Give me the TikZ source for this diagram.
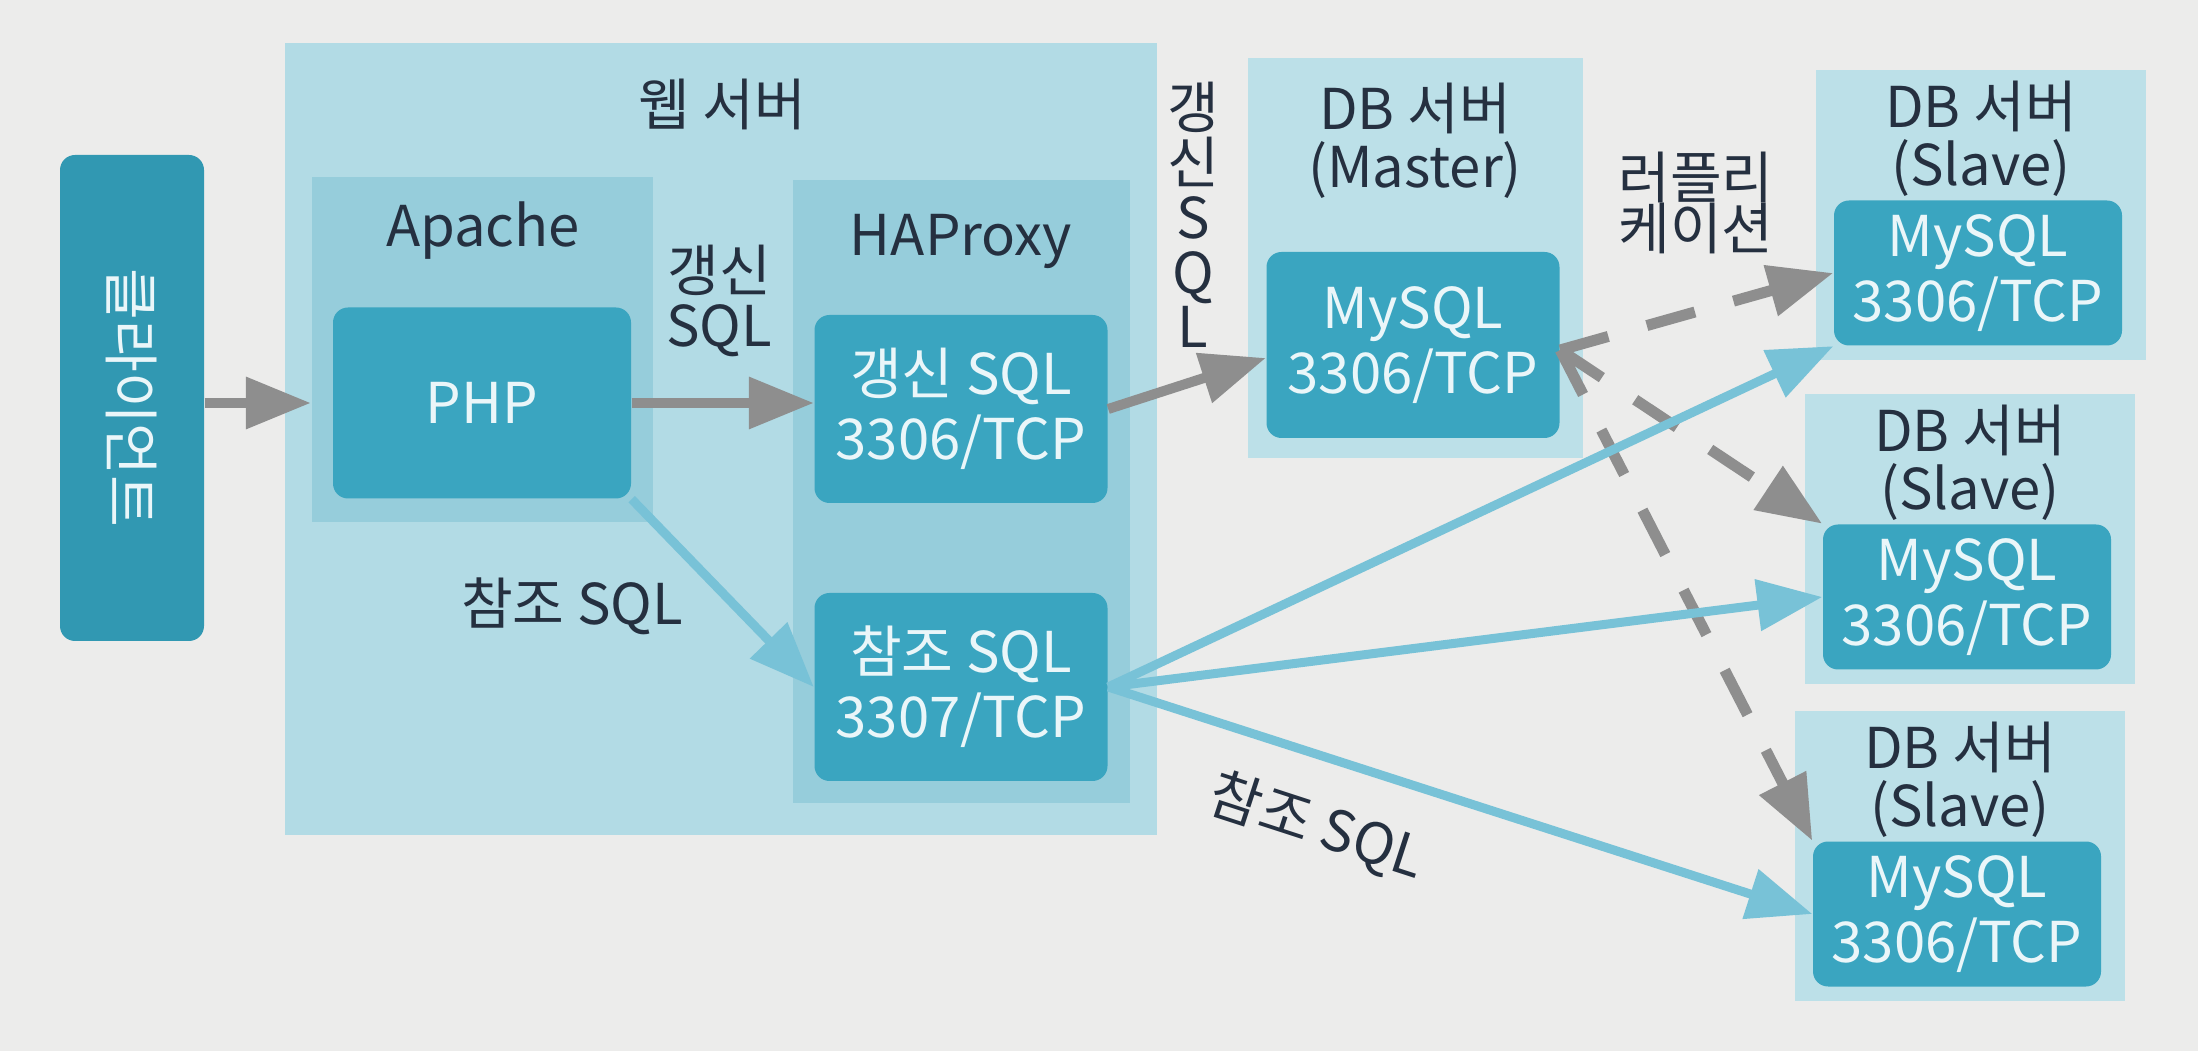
\documentclass[tikz,border=0pt]{standalone}
\usepackage{fontspec}
\setmainfont{Noto Sans CJK KR}
\usetikzlibrary{arrows.meta,positioning}
\definecolor{bgcol}{HTML}{ECECEB}
\definecolor{webcol}{HTML}{B2DBE5}
\definecolor{midcol}{HTML}{96CDDB}
\definecolor{dbcol}{HTML}{BCE0E8}
\definecolor{sqlcol}{HTML}{3AA5C0}
\definecolor{clientcol}{HTML}{3198B2}
\definecolor{txtcol}{HTML}{253040}
\definecolor{nodetxt}{HTML}{EAF6F9}
\definecolor{greycol}{HTML}{8E8E8E}
\definecolor{bluecol}{HTML}{78C2D7}
\tikzset{
  webbox/.style={fill=webcol, inner sep=0pt},
  midbox/.style={fill=midcol, inner sep=0pt},
  dbbox/.style={fill=dbcol, inner sep=0pt, minimum width=33mm, minimum height=29mm},
  sqlbox/.style={fill=sqlcol, rounded corners=1.5mm, text=nodetxt, align=center,
    font=\fontsize{16}{18.5}\selectfont},
  clientbox/.style={fill=clientcol, rounded corners=1.5mm, text=nodetxt,
    font=\fontsize{16}{18}\selectfont},
  title/.style={text=txtcol, align=center, font=\fontsize{16}{16.5}\selectfont},
  greyarrow/.style={draw=greycol, line width=1mm, -{Triangle[length=6.5mm,width=5mm]}},
  bluearrow/.style={draw=bluecol, line width=0.9mm, -{Triangle[length=6.5mm,width=5mm]}},
  replarrow/.style={draw=greycol, line width=1.1mm, dash pattern=on 5mm off 4mm,
    -{Triangle[length=6.5mm,width=5mm]}}
}

\begin{document}
\begin{tikzpicture}[x=0.1mm,y=-0.1mm]
  \fill[bgcol] (0,0) rectangle (2198,1051);

  % Define nodes
  \node[clientbox, minimum width=14.4mm, minimum height=48.6mm] (client) at (132,398) {\rotatebox{-90}{클라이언트}};

  \node[webbox, minimum width=87.2mm, minimum height=79.2mm] (web) at (721,439) {};
  \node[title] (webtitle) at (722,104) {웹 서버};

  \node[midbox, minimum width=34.1mm, minimum height=34.5mm] (apache) at (482,350) {};
  \node[title] (apachetitle) at (483,231) {Apache};
  \node[sqlbox, minimum width=29.8mm, minimum height=19.1mm] (php) at (482,403) {PHP};

  \node[midbox, minimum width=33.7mm, minimum height=62.3mm] (haproxy) at (961,492) {};
  \node[title] (haproxytitle) at (961,241) {HAProxy};
  \node[sqlbox, minimum width=29.3mm, minimum height=18.8mm] (upd) at (961,409) {갱신 SQL\\3306/TCP};
  \node[sqlbox, minimum width=29.3mm, minimum height=18.8mm] (ref) at (961,687) {참조 SQL\\3307/TCP};

  \node[dbbox, minimum width=33.5mm, minimum height=40mm] (master) at (1415,258) {};
  \node[title] (mastertitle) at (1415,141) {DB 서버\\(Master)};
  \node[sqlbox, minimum width=29.3mm, minimum height=18.6mm] (master-my) at (1413,345) {MySQL\\3306/TCP};

  \foreach \s/\x/\y in {s1/1981/215, s2/1970/539, s3/1960/856} {
    \node[dbbox] (\s) at (\x,\y) {};
    \node[title] (\s-title) at (\x,\y-76) {DB 서버\\(Slave)};
    \node[sqlbox, minimum width=28.8mm, minimum height=14.5mm] (\s-my) at (\x-3,\y+58) {MySQL\\3306/TCP};
  }

  % Labels
  \node[title, font=\fontsize{16}{15.5}\selectfont] (updlabel) at (719,301) {갱신\\SQL};
  \node[title] (reflabel) at (572,606) {참조 SQL};
  \node[title, font=\fontsize{16}{15.6}\selectfont] (updlabel2) at (1193,215) {갱\\신\\S\\Q\\L};
  \node[title, font=\fontsize{16}{14.5}\selectfont] (repllabel) at (1696,203) {러플리\\케이션};
  \node[title, rotate=-18] (reflabel2) at (1317,827) {참조 SQL};

  % Connect the nodes
  \draw[greyarrow] (client.east |- php) -- (apache.west |- php);
  \draw[greyarrow] (php.east) -- (php.east -| upd.west);
  \draw[bluearrow] (php.south east) -- (ref.west);
  \draw[greyarrow] (upd.east) -- ([yshift=-1.3mm]master-my.west);

  \draw[replarrow] ([yshift=-0.5mm]master-my.east) -- (s1-my.west);
  \draw[replarrow] ([yshift=-0.5mm]master-my.east) -- (s2-my.north west);
  \draw[replarrow] ([yshift=-0.5mm]master-my.east) -- (s3-my.north west);

  \draw[bluearrow] (ref.east) -- (s1-my.south west);
  \draw[bluearrow] (ref.east) -- (s2-my.west);
  \draw[bluearrow] (ref.east) -- (s3-my.west);
\end{tikzpicture}
\end{document}
